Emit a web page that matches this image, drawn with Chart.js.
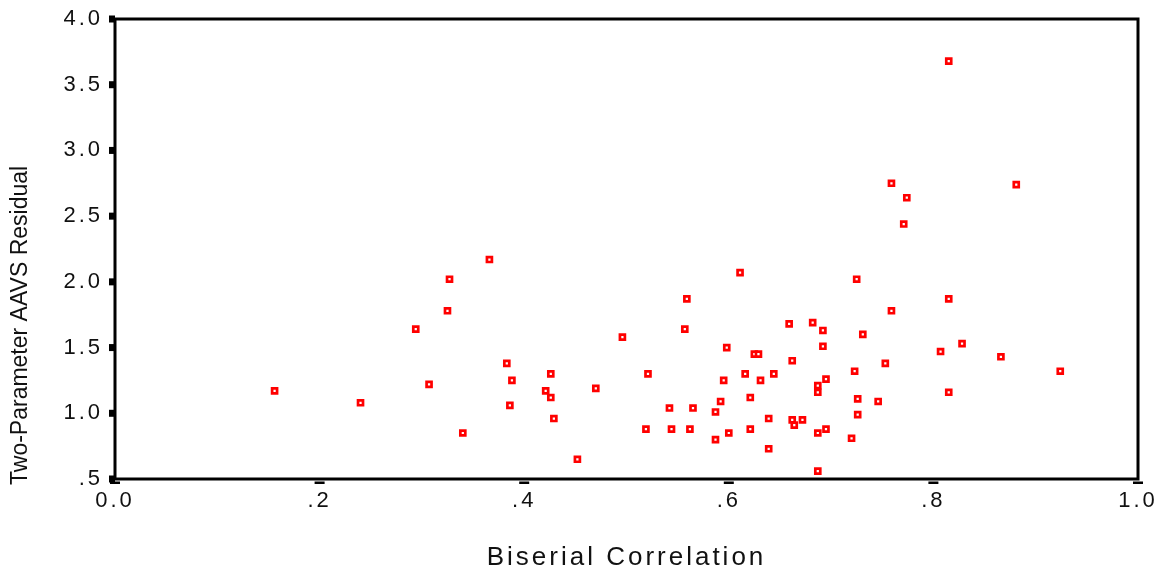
<!DOCTYPE html>
<html>
<head>
<meta charset="utf-8">
<script src="https://cdn.jsdelivr.net/npm/chart.js@4/dist/chart.umd.min.js"></script>
<style>
  html, body { margin: 0; padding: 0; background: #fff; }
  #wrap { width: 1164px; height: 575px; position: relative; }
</style>
</head>
<body>
<div id="wrap"><canvas id="scatter"></canvas></div>
<script>
// values
const biserial = [
  0.156, 0.240, 0.294, 0.307, 0.327, 0.325, 0.340, 0.366, 0.383, 0.388,
  0.386, 0.421, 0.426, 0.426, 0.429, 0.452, 0.470, 0.496, 0.521, 0.519,
  0.542, 0.544, 0.557, 0.559, 0.562, 0.565, 0.587, 0.587, 0.592, 0.595,
  0.598, 0.600, 0.611, 0.616, 0.621, 0.621, 0.625, 0.629, 0.631, 0.639,
  0.639, 0.644, 0.659, 0.662, 0.662, 0.664, 0.672, 0.682, 0.687, 0.687,
  0.687, 0.687, 0.692, 0.692, 0.695, 0.695, 0.720, 0.723, 0.725, 0.726,
  0.726, 0.731, 0.746, 0.753, 0.759, 0.759, 0.774, 0.771, 0.807, 0.815,
  0.815, 0.815, 0.828, 0.866, 0.881, 0.924
];
const residual = [
  1.17, 1.08, 1.64, 1.22, 2.02, 1.78, 0.85, 2.17, 1.38, 1.25,
  1.06, 1.17, 1.30, 1.12, 0.96, 0.65, 1.19, 1.58, 1.30, 0.88,
  1.04, 0.88, 1.64, 1.87, 0.88, 1.04, 1.01, 0.80, 1.09, 1.25,
  1.50, 0.85, 2.07, 1.30, 1.12, 0.88, 1.45, 1.45, 1.25, 0.96,
  0.73, 1.30, 1.68, 1.40, 0.95, 0.91, 0.95, 1.69, 1.21, 1.16,
  0.85, 0.56, 1.63, 1.51, 1.26, 0.88, 0.81, 1.32, 2.02, 1.11,
  0.99, 1.60, 1.09, 1.38, 1.78, 2.75, 2.64, 2.44, 1.47, 1.87,
  1.16, 3.68, 1.53, 1.43, 2.74, 1.32
];
const xTickLabels = ['0.0', '.2', '.4', '.6', '.8', '1.0'];
const yTickLabels = ['.5', '1.0', '1.5', '2.0', '2.5', '3.0', '3.5', '4.0'];

const FONT = "'Liberation Sans', Arial, sans-serif";
const INK = '#111';

// y scale whose title is drawn without the extra letter spacing
class ResidualScale extends Chart.LinearScale {
  drawTitle() {
    const ctx = this.ctx;
    ctx.save();
    ctx.letterSpacing = '0px';
    ctx.translate(0, 6);
    super.drawTitle();
    ctx.restore();
  }
}
ResidualScale.id = 'residualLinear';
ResidualScale.defaults = Chart.LinearScale.defaults;
Chart.register(ResidualScale);

// spaced-out lettering like the original output
const spacing = {
  id: 'spacing',
  beforeDraw(chart) {
    chart.ctx.letterSpacing = '3px';
  }
};

// box round the plot plus the stubby tick marks
const frame = {
  id: 'frame',
  afterDraw(chart) {
    const { ctx, chartArea: a, scales } = chart;
    ctx.save();
    ctx.fillStyle = '#000';
    scales.y.ticks.forEach(t => {
      const py = scales.y.getPixelForValue(t.value);
      ctx.fillRect(a.left - 6, py - 3.5, 6, 7);
    });
    scales.x.ticks.forEach(t => {
      const px = scales.x.getPixelForValue(t.value);
      ctx.fillRect(px - 5, a.bottom + 2.5, 10, 2.5);
    });
    ctx.strokeStyle = '#000';
    ctx.lineWidth = 3;
    ctx.strokeRect(a.left, a.top, a.right - a.left, a.bottom - a.top);
    ctx.restore();
  }
};

const points = biserial.map((x, i) => ({ x: x, y: residual[i] }));

new Chart(document.getElementById('scatter'), {
  type: 'scatter',
  data: {
    datasets: [{
      data: points,
      pointStyle: 'rect',
      pointRadius: 3.5,
      pointHoverRadius: 3.5,
      pointBorderWidth: 2.7,
      pointBorderColor: '#ff0000',
      pointBackgroundColor: '#ffffff'
    }]
  },
  options: {
    responsive: true,
    maintainAspectRatio: false,
    animation: false,
    layout: { padding: { top: 19, right: 26, left: 0, bottom: 0 } },
    plugins: { legend: { display: false }, tooltip: { enabled: false } },
    scales: {
      x: {
        type: 'linear',
        min: 0,
        max: 1,
        afterFit: s => { s.height = 96; s.paddingLeft = 0; s.paddingRight = 0; },
        grid: { display: false, drawTicks: false },
        border: { display: false },
        ticks: {
          stepSize: 0.2,
          padding: 9,
          color: INK,
          font: { family: FONT, size: 22 },
          callback: (v, i) => xTickLabels[i]
        },
        title: {
          display: true,
          text: 'Biserial Correlation',
          color: INK,
          font: { family: FONT, size: 26 },
          padding: { top: 0, bottom: 2 }
        }
      },
      y: {
        type: 'residualLinear',
        min: 0.5,
        max: 4,
        afterFit: s => { s.width = 115; s.paddingTop = 0; s.paddingBottom = 0; },
        grid: { display: false, drawTicks: false },
        border: { display: false },
        ticks: {
          stepSize: 0.5,
          padding: 12,
          color: INK,
          font: { family: FONT, size: 22 },
          callback: (v, i) => yTickLabels[i]
        },
        title: {
          display: true,
          text: 'Two-Parameter AAVS Residual',
          align: 'start',
          color: INK,
          font: { family: FONT, size: 23 },
          padding: { top: 7, bottom: 0 }
        }
      }
    }
  },
  plugins: [spacing, frame]
});
</script>
</body>
</html>
